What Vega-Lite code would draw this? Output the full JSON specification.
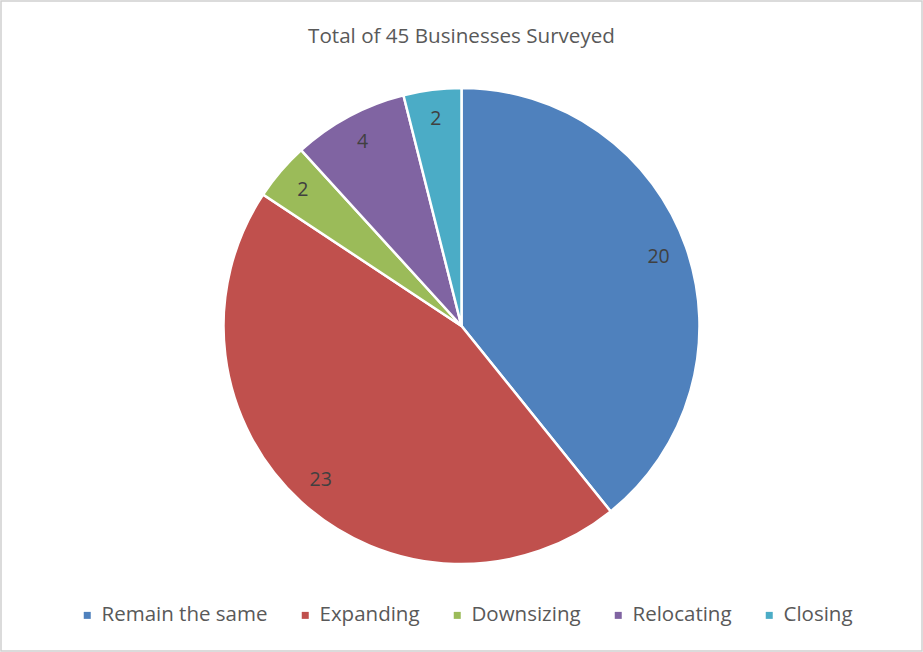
{
  "$schema": "https://vega.github.io/schema/vega-lite/v6.json",
  "width": 921,
  "height": 650,
  "padding": {"left": 1, "top": 1, "right": 1, "bottom": 1},
  "autosize": {"type": "none"},
  "background": "white",
  "view": {"stroke": "#d0d0d0", "strokeWidth": 1.5, "fill": "white"},
  "config": {
    "view": {"stroke": "#d0d0d0", "strokeWidth": 1.5},
    "style": {"cell": {"stroke": "#d0d0d0", "strokeWidth": 1.5}},
    "font": "Open Sans"
  },
  "title": {
    "text": "Total of 45 Businesses Surveyed",
    "frame": "group",
    "anchor": "middle",
    "offset": -47,
    "fontSize": 20.6,
    "font": "Open Sans",
    "fontWeight": "normal",
    "color": "#595959"
  },
  "data": {
    "values": [
      {"category": "Remain the same", "count": 20, "order": 1},
      {"category": "Expanding", "count": 23, "order": 2},
      {"category": "Downsizing", "count": 2, "order": 3},
      {"category": "Relocating", "count": 4, "order": 4},
      {"category": "Closing", "count": 2, "order": 5}
    ]
  },
  "encoding": {
    "theta": {"field": "count", "type": "quantitative", "stack": true},
    "order": {"field": "order", "type": "ordinal"}
  },
  "layer": [
    {
      "mark": {"type": "arc", "outerRadius": 238, "stroke": "white", "strokeWidth": 2.5},
      "encoding": {
        "color": {
          "field": "category",
          "type": "nominal",
          "sort": ["Remain the same", "Expanding", "Downsizing", "Relocating", "Closing"],
          "scale": {
            "domain": ["Remain the same", "Expanding", "Downsizing", "Relocating", "Closing"],
            "range": ["#4F81BD", "#C0504D", "#9BBB59", "#8064A2", "#4BACC6"]
          },
          "legend": {
            "title": null,
            "orient": "none",
            "legendX": 76,
            "legendY": 604,
            "direction": "horizontal",
            "columns": 5,
            "symbolType": "square",
            "symbolSize": 49,
            "symbolStrokeWidth": 0,
            "labelFontSize": 20.5,
            "labelFont": "Open Sans",
            "labelColor": "#595959",
            "labelOffset": 4,
            "columnPadding": 27,
            "labelLimit": 300
          }
        }
      }
    },
    {
      "mark": {"type": "text", "radius": 209, "fontSize": 19.5, "font": "Open Sans", "color": "#404040"},
      "encoding": {
        "text": {"field": "count", "type": "quantitative"}
      }
    }
  ]
}
